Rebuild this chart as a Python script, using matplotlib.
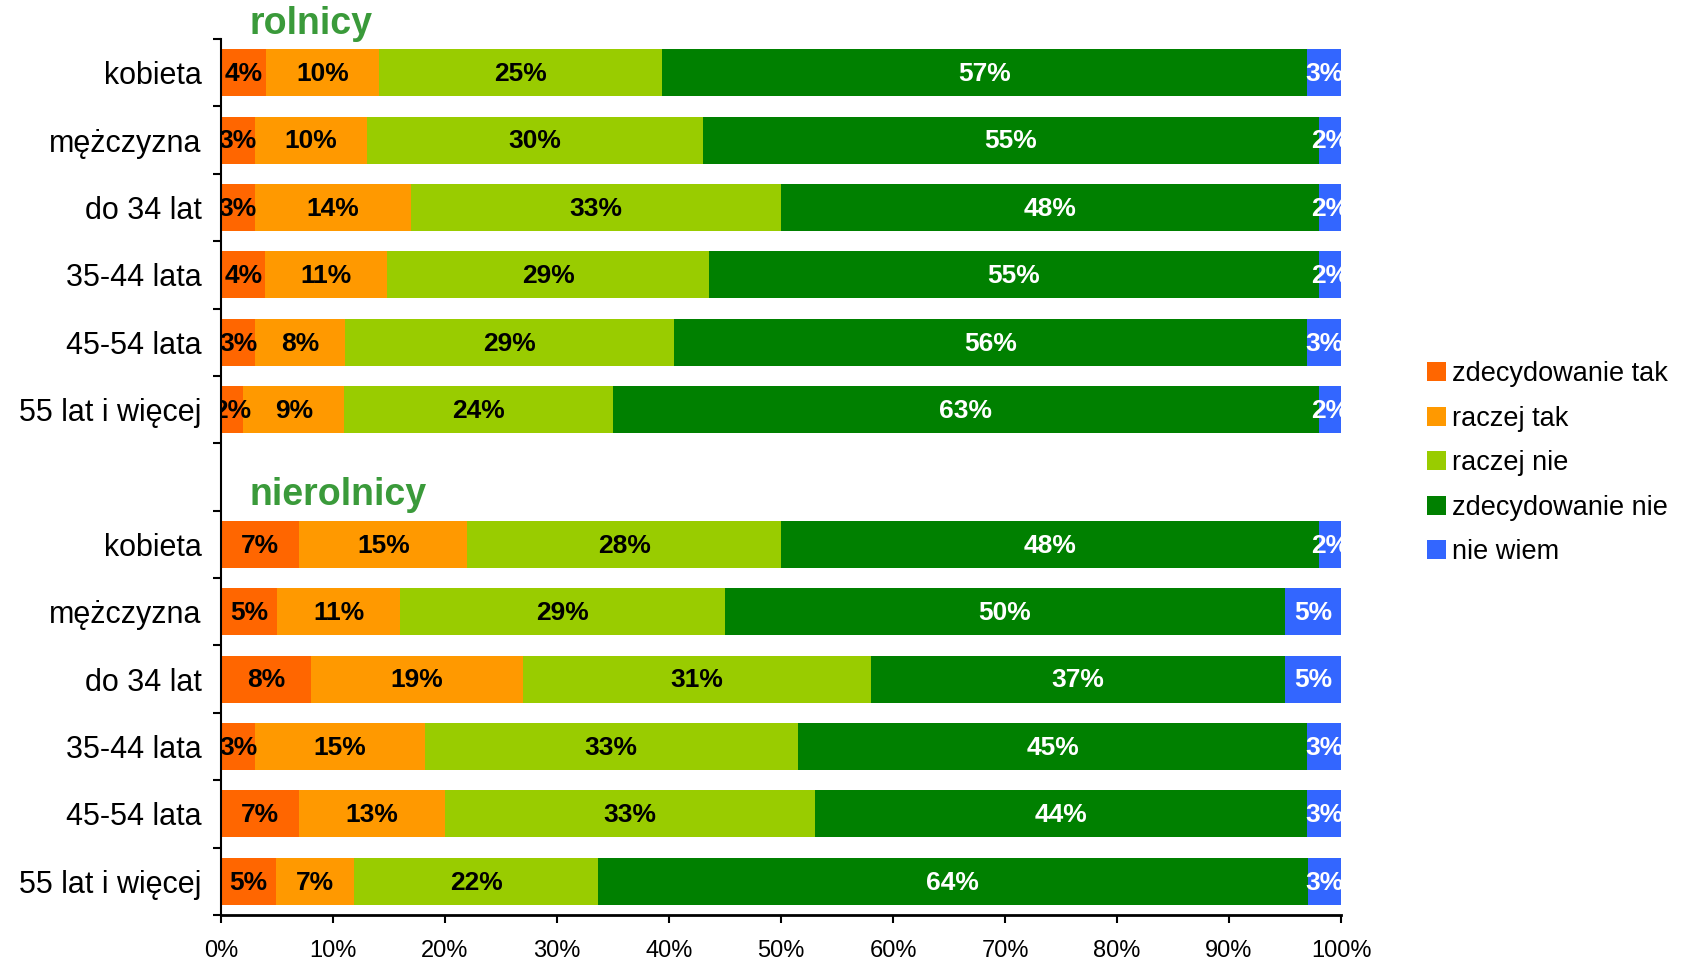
import matplotlib.pyplot as plt
import numpy as np

plt.rcParams['font.family'] = ['Liberation Sans', 'DejaVu Sans']

groups = ['rolnicy', 'nierolnicy']
rows = ['kobieta', 'mężczyzna', 'do 34 lat', '35-44 lata', '45-54 lata', '55 lat i więcej']
series = ['zdecydowanie tak', 'raczej tak', 'raczej nie', 'zdecydowanie nie', 'nie wiem']
colors = ['#FF6600', '#FF9900', '#99CC00', '#008000', '#3366FF']
text_colors = ['black', 'black', 'black', 'white', 'white']

# percentages per row (as printed on the bars)
rolnicy = [
    [4, 10, 25, 57, 3],
    [3, 10, 30, 55, 2],
    [3, 14, 33, 48, 2],
    [4, 11, 29, 55, 2],
    [3, 8, 29, 56, 3],
    [2, 9, 24, 63, 2],
]
nierolnicy = [
    [7, 15, 28, 48, 2],
    [5, 11, 29, 50, 5],
    [8, 19, 31, 37, 5],
    [3, 15, 33, 45, 3],
    [7, 13, 33, 44, 3],
    [5, 7, 22, 64, 3],
]


def main():
    fig = plt.figure(figsize=(16.82, 9.61), dpi=100)
    ax = fig.add_axes([0.1314, 0.0479, 0.6659, 0.9115])

    data = rolnicy + [None] + nierolnicy
    labels = rows + [''] + rows
    for i, row in enumerate(data):
        if row is None:
            continue
        vals = np.array(row, dtype=float)
        share = vals / vals.sum() * 100
        left = 0
        for j in range(len(vals)):
            ax.barh(i, share[j], left=left, height=0.7, color=colors[j],
                    label=series[j] if i == 0 else None)
            ax.text(left + share[j] / 2, i + 0.02, '%d%%' % row[j], ha='center', va='center',
                    fontsize=19, fontweight='bold', color=text_colors[j], clip_on=True)
            left += share[j]

    # group headers
    ax.text(2.5, -0.72, groups[0], fontsize=27, fontweight='bold', color='#3A9A3A',
            ha='left', va='center', clip_on=False)
    ax.text(2.5, 6.27, groups[1], fontsize=27, fontweight='bold', color='#3A9A3A',
            ha='left', va='center', clip_on=False)

    ax.set_xlim(0, 100)
    ax.set_ylim(12.5, -0.5)
    ax.set_xticks(np.arange(0, 101, 10))
    ax.set_xticklabels(['%d%%' % v for v in range(0, 101, 10)], fontsize=17)
    ax.set_yticks(np.arange(-0.5, 13, 1))
    ax.set_yticklabels([])
    ax.set_yticks(np.arange(13), minor=True)
    ax.set_yticklabels(labels, minor=True, fontsize=22)
    ax.tick_params(axis='y', which='minor', length=0, pad=14)
    ax.tick_params(axis='y', which='major', length=6, width=1.5, direction='out')
    ax.tick_params(axis='x', length=6, width=1.5, direction='out', pad=12)
    ax.spines['top'].set_visible(False)
    ax.spines['right'].set_visible(False)
    ax.spines['left'].set_linewidth(1.5)
    ax.spines['bottom'].set_linewidth(2)

    fig.legend(loc='center left', bbox_to_anchor=(0.834, 0.518), frameon=False,
               fontsize=19.5, handlelength=0.7, handleheight=0.7, handletextpad=0.2,
               labelspacing=0.68)

    plt.savefig('out.png', dpi=100)


if __name__ == '__main__':
    main()
